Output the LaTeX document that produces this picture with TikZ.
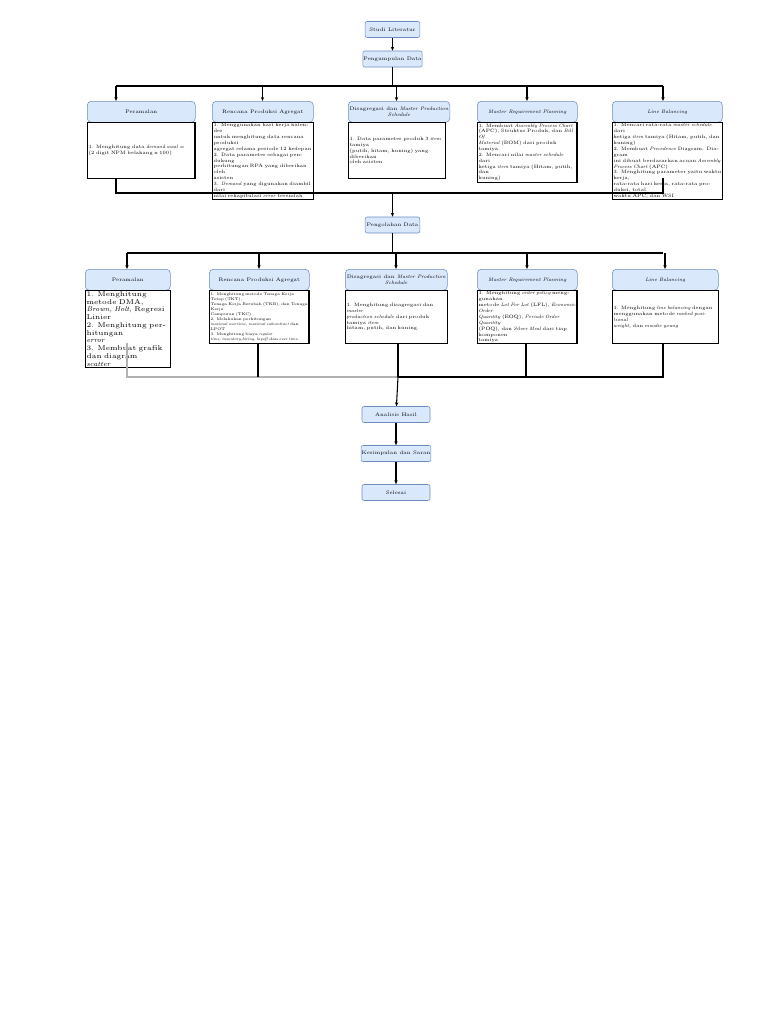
\documentclass[tikz,border=0pt]{standalone}
\usetikzlibrary{positioning,arrows.meta}
\definecolor{hdrfill}{HTML}{DAE8FC}
\definecolor{hdrline}{HTML}{6C8EBF}
\tikzset{
  stage/.style={draw=hdrline,fill=hdrfill,rounded corners=1.5pt,minimum width=41pt,minimum height=12pt,inner sep=0.5pt,font=\fontsize{3.8}{4.4}\selectfont,align=center},
  head/.style={draw=hdrline,fill=hdrfill,rounded corners=3pt,anchor=north west,minimum height=15.75pt,inner sep=1pt,font=\fontsize{3.8}{4.4}\selectfont,align=center},
  body/.style={draw,thick,fill=white,anchor=north west,inner sep=0.8pt,font=\fontsize{3.6}{4.4}\selectfont,align=left},
  flow/.style={-{Stealth[length=3pt,width=2.5pt]},thick},
  link/.style={thick}
}
\begin{document}
\begin{tikzpicture}[x=0.75pt,y=-0.75pt]
\useasboundingbox (0,0) rectangle (768,1024);
% langkah awal
\node[stage] (studi) at (392.5,29.5) {Studi Literatur};
\node[stage] (kumpul) at (392.5,59) {Pengumpulan Data};
\draw[flow] (studi) -- (kumpul);
% baris pengumpulan
\node[head,minimum width=81pt] (ha1) at (87,101) {Peramalan};
\node[head,minimum width=75.75pt] (ha2) at (212,101) {Rencana Produksi Agregat};
\node[head,minimum width=72.75pt] (ha3) at (348,101) {Disagregasi dan \textit{Master Production}\\\textit{Schedule}};
\node[head,minimum width=75pt] (ha4) at (477,101) {\textit{Master Requirement Planning}};
\node[head,minimum width=82.5pt] (ha5) at (612,101) {\textit{Line Balancing}};
\node[body,text width=79pt,minimum height=42pt] (ba1) at (87,122) {1. Menghitung data \textit{demand awal} =\\(2 digit NPM belakang x 100)};
\node[body,text width=74pt,minimum height=42pt] (ba2) at (212,122) {1. Menggunakan hari kerja kalender\\untuk menghitung data rencana produksi\\agregat selama periode 12 kedepan\\2. Data parameter sebagai pendukung\\perhitungan RPA yang diberikan oleh\\asisten\\3. \textit{Demand} yang digunakan diambil dari\\nilai rekapitulasi \textit{error} terendah};
\node[body,text width=71pt,minimum height=42pt] (ba3) at (348,122) {1. Data parameter produk 3 \textit{item} tamiya\\(putih, hitam, kuning) yang diberikan\\oleh asisten};
\node[body,text width=73pt,minimum height=42pt] (ba4) at (477,122) {1. Membuat \textit{Assembly Process Chart}\\(APC), Struktur Produk, dan \textit{Bill Of}\\\textit{Material} (BOM) dari produk tamiya.\\2. Mencari nilai \textit{master schedule} dari\\ketiga \textit{item} tamiya (Hitam, putih, dan\\kuning)};
\node[body,text width=81pt,minimum height=42pt] (ba5) at (612,122) {1. Mencari rata-rata \textit{master schedule} dari\\ketiga \textit{item} tamiya (Hitam, putih, dan kuning)\\2. Membuat \textit{Precedence} Diagram. Diagram\\ini dibuat berdasarkan acuan \textit{Assembly}\\\textit{Process Chart} (APC)\\3. Menghitung parameter yaitu waktu kerja,\\rata-rata hari kerja, rata-rata produksi, total\\waktu APC, dan WSI};
\coordinate (splitA) at (392.5,86);
\draw[link] (kumpul) -- (splitA);
\draw[link] (116,86) -- (663,86);
\foreach \x in {116,262.5,396.5,527,663}
  \draw[flow] (\x,86) -- (\x,101);
% menuju pengolahan
\node[stage] (olah) at (392.5,225) {Pengolahan Data};
\coordinate (joinA) at (392.5,193);
\draw[link] (116,178) -- (116,193) -- (663,193) -- (663,178);
\draw[flow] (joinA) -- (olah);
% baris pengolahan
\node[head,minimum width=63.75pt] (hb1) at (85,269) {Peramalan};
\node[head,minimum width=75pt] (hb2) at (209,269) {Rencana Produksi Agregat};
\node[head,minimum width=76.5pt] (hb3) at (345,269) {Disagregasi dan \textit{Master Production}\\\textit{Schedule}};
\node[head,minimum width=75pt] (hb4) at (477,269) {\textit{Master Requirement Planning}};
\node[head,minimum width=79.5pt] (hb5) at (612,269) {\textit{Line Balancing}};
\node[body,text width=62pt,minimum height=39.75pt,font=\fontsize{5.2}{5.8}\selectfont] (bb1) at (85,290) {1. Menghitung metode DMA,\\\textit{Brown, Holt,} Regresi Linier\\2. Menghitung perhitungan\\\textit{error}\\3. Membuat grafik dan diagram\\\textit{scatter}};
\node[body,text width=73pt,minimum height=39.75pt,font=\fontsize{2.9}{3.8}\selectfont] (bb2) at (209,290) {1. Menghitung metode Tenaga Kerja Tetap (TKT),\\Tenaga Kerja Berubah (TKB), dan Tenaga Kerja\\Campuran (TKC)\\2. Melakukan perhitungan\\\textit{maximal overtime, maximal subcontract} dan\\LPOT\\3. Menghitung biaya \textit{regular}\\\textit{time, inventory,hiring, layoff} dan \textit{over time}.};
\node[body,text width=75pt,minimum height=39.75pt] (bb3) at (345,290) {1. Menghitung disagregasi dan \textit{master}\\\textit{production schedule} dari produk tamiya \textit{item}\\hitam, putih, dan kuning.};
\node[body,text width=73pt,minimum height=39.75pt] (bb4) at (477,290) {1. Menghitung \textit{order policy} menggunakan\\metode \textit{Lot For Lot} (LFL), \textit{Economic Order}\\\textit{Quantity} (EOQ), \textit{Periode Order Quantity}\\(POQ), dan \textit{Silver Meal} dari tiap komponen\\tamiya};
\node[body,text width=78pt,minimum height=39.75pt] (bb5) at (612,290) {1. Menghitung \textit{line balancing} dengan\\menggunakan metode \textit{ranked positional}\\\textit{weight}, dan \textit{moodie young}};
\coordinate (splitB) at (392.5,253);
\draw[link] (olah) -- (splitB);
\draw[link] (127,253) -- (663,253);
\foreach \x in {127,259,396,527,665}
  \draw[flow] (\x,253) -- (\x,269);
% menuju analisis
\node[stage,minimum width=51pt] (analisis) at (396,414.5) {Analisis Hasil};
\node[stage,minimum width=51pt] (simpul) at (396,453.5) {Kesimpulan dan Saran};
\node[stage,minimum width=51pt] (selesai) at (396,492.5) {Selesai};
\coordinate (joinB) at (398,377);
\draw[gray!60,thick] (127,343) -- (127,377) -- (398,377);
\draw[link] (258,343) -- (258,377);
\draw[link] (398,343) -- (398,377);
\draw[link] (526,343) -- (526,377);
\draw[link] (663,343) -- (663,377) -- (joinB);
\draw[flow] (joinB) -- (analisis);
\draw[flow] (analisis) -- (simpul);
\draw[flow] (simpul) -- (selesai);
\end{tikzpicture}
\end{document}
